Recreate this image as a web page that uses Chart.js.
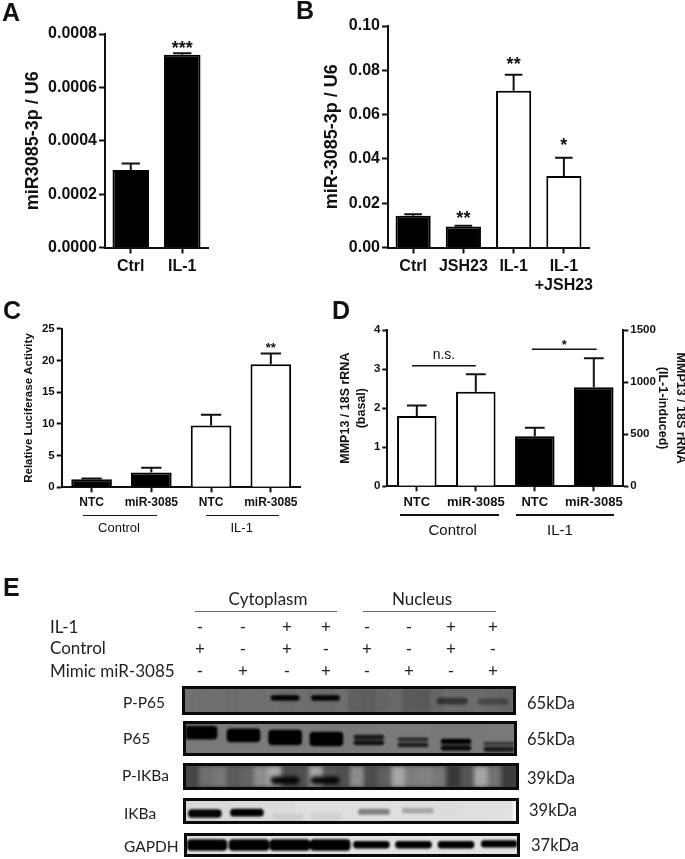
<!DOCTYPE html>
<html>
<head>
<meta charset="utf-8">
<script src="https://cdn.jsdelivr.net/npm/chart.js@4/dist/chart.umd.min.js"></script>
<style>
  html, body { margin: 0; padding: 0; background: #fff; }
  body { position: relative; width: 685px; height: 859px; overflow: hidden; color: #111; font-family: "Liberation Sans", sans-serif; }
  canvas.panel { position: absolute; filter: blur(0.4px); }
  .txt { position: absolute; transform: translate(-50%, -50%); white-space: nowrap; filter: blur(0.3px); }
  .left { transform: translate(0, -50%); }
  .letter { font-weight: bold; font-size: 25px; transform: translate(0, -50%); }
  .group { font-size: 13px; }
  .groupD { font-size: 15px; }
  .blot { font-family: Lato, sans-serif; font-size: 15.5px; color: #222; }
  .head { font-size: 17px; }
  .size { font-size: 16.5px; }
  .rule { position: absolute; background: #111; }
  .strip { position: absolute; box-sizing: border-box; border: 3px solid #0a0a0a; overflow: hidden; }
</style>
</head>
<body>
<script>
// Panel A
const aLabels = ['Ctrl', 'IL-1'];
const aMeans = [0.00029, 0.000722];
const aTops = [0.000315, 0.000728];
const aFilled = [true, true];
const aSig = ['', '***'];
const aSigAt = [null, 0.00076];
const aTicks = [0, 0.0002, 0.0004, 0.0006, 0.0008];

// Panel B
const bLabels = ['Ctrl', 'JSH23', 'IL-1', ['IL-1', '+JSH23']];
const bMeans = [0.0143, 0.0095, 0.0708, 0.0323];
const bTops = [0.015, 0.0098, 0.078, 0.0405];
const bFilled = [true, true, false, false];
const bSig = ['', '**', '**', '*'];
const bSigAt = [null, 0.0147, 0.0846, 0.0478];
const bTicks = [0, 0.02, 0.04, 0.06, 0.08, 0.1];

// Panel C
const cLabels = ['NTC', 'miR-3085', 'NTC', 'miR-3085'];
const cMeans = [1.25, 2.35, 9.75, 19.4];
const cTops = [1.4, 3.1, 11.45, 21.1];
const cFilled = [true, true, false, false];
const cSig = ['', '', '', '**'];
const cSigAt = [null, null, null, 22.4];
const cTicks = [0, 5, 10, 15, 20, 25];

// Panel D: basal bars read on the left axis, IL-1 bars on the right one
const dLabels = ['NTC', 'miR-3085', 'NTC', 'miR-3085'];
const dBasalMeans = [1.8, 2.42, null, null];
const dBasalTops = [2.07, 2.87, null, null];
const dBasalFilled = [false, false, false, false];
const dInducedMeans = [null, null, 480, 950];
const dInducedTops = [null, null, 562, 1230];
const dInducedFilled = [true, true, true, true];
const dLeftTicks = [0, 1, 2, 3, 4];
const dRightTicks = [0, 500, 1000, 1500];
const dBrackets = [
  { from: -0.08, to: 1, at: 3.086, label: 'n.s.', labelAt: 3.36 },
  { from: 1.95, to: 3.05, at: 3.51, label: '*', labelAt: 3.67 }
];

// Panel E treatments
const il1Row = ['-', '-', '+', '+', '-', '-', '+', '+'];
const controlRow = ['+', '-', '+', '-', '+', '-', '+', '-'];
const mimicRow = ['-', '+', '-', '+', '-', '+', '-', '+'];

// Panel E bands: lane position, extent down the strip (0-1), darkness (0-1)
const pP65Cyto = { lanes: [2.98, 3.93], extent: [[0.28, 0.5], [0.28, 0.5]], dark: [0.95, 0.95] };
const pP65Nuc = { lanes: [6.91, 7.87], extent: [[0.4, 0.66], [0.42, 0.68]], dark: [0.5, 0.3] };
const p65Cyto = { lanes: [0.99, 2.0, 2.98, 3.95], extent: [[0.07, 0.52], [0.17, 0.62], [0.21, 0.72], [0.28, 0.76]], dark: [1, 1, 1, 1] };
const p65NucUpper = { lanes: [4.95, 5.99, 7.0, 8.01], extent: [[0.38, 0.52], [0.48, 0.59], [0.52, 0.69], [0.62, 0.72]], dark: [0.8, 0.65, 1, 0.55] };
const p65NucLower = { lanes: [4.95, 5.99, 7.0, 8.01], extent: [[0.57, 0.72], [0.66, 0.79], [0.74, 0.91], [0.79, 0.95]], dark: [0.85, 0.75, 0.9, 0.75] };
const pIkbaCyto = { lanes: [2.98, 3.92], extent: [[0.53, 0.85], [0.53, 0.85]], dark: [1, 1] };
const ikbaCyto = { lanes: [1.09, 2.08], extent: [[0.43, 0.82], [0.4, 0.76]], dark: [0.98, 1] };
const ikbaNuc = { lanes: [5.07, 6.1], extent: [[0.41, 0.67], [0.37, 0.6]], dark: [0.42, 0.25] };
const ikbaFaint = { lanes: [3.05, 3.95], extent: [[0.65, 0.98], [0.6, 0.98]], dark: [0.06, 0.05] };
const ikbaEdge = { lanes: [8.4], extent: [[0, 1]], dark: [1] };
const gapdhCyto = { lanes: [1.14, 2.13, 3.09, 4.04], extent: [[0.2, 0.8], [0.2, 0.8], [0.2, 0.8], [0.2, 0.8]], dark: [1, 1, 1, 1] };
const gapdhNuc = { lanes: [5.01, 6.0, 7.0, 8.02], extent: [[0.29, 0.67], [0.29, 0.67], [0.29, 0.67], [0.26, 0.62]], dark: [1, 1, 1, 1] };

// Panel E membrane background, grey level across each strip
const pP65Shades = [112, 110, 112, 108, 112, 110, 112, 108, 110, 108, 106, 110, 96, 92, 100, 104, 90, 88, 100, 108, 106, 108, 104, 100];
const p65Shades = [122, 122, 122, 122, 122, 120, 120, 122, 122, 120, 120, 122];
const pIkbaShades = [70, 110, 120, 90, 100, 140, 170, 75, 80, 165, 85, 80, 140, 75, 95, 165, 125, 130, 120, 55, 85, 165, 115, 60];
const ikbaShades = [216, 216, 218, 218, 222, 222, 222, 222, 220, 220, 222, 224];
const gapdhShades = [226, 226, 226, 226, 226, 226, 226, 226];

const blotLabels = ['P-P65', 'P65', 'P-IKBa', 'IKBa', 'GAPDH'];
const blotSizes = ['65kDa', '65kDa', '39kDa', '39kDa', '37kDa'];

const FONT = '"Liberation Sans", sans-serif';
const INK = '#111';

// error bars, significance marks and brackets, all placed through the scales
const annotatePlugin = {
  id: 'annotate',
  afterDatasetsDraw(chart) {
    const ctx = chart.ctx;
    const { sigSize } = chart.options.plugins.annotate;
    ctx.save();
    ctx.strokeStyle = INK;
    ctx.fillStyle = INK;
    ctx.lineWidth = 2;
    chart.data.datasets.forEach((ds, i) => {
      const meta = chart.getDatasetMeta(i);
      const yScale = chart.scales[meta.yAxisID];
      meta.data.forEach((bar, j) => {
        if (ds.tops[j] == null) return;
        const top = yScale.getPixelForValue(ds.tops[j]);
        const cap = bar.width / 4;
        ctx.beginPath();
        ctx.moveTo(bar.x, bar.y);
        ctx.lineTo(bar.x, top);
        ctx.moveTo(bar.x - cap, top);
        ctx.lineTo(bar.x + cap, top);
        ctx.stroke();
        if (ds.sig && ds.sig[j]) drawCentered(ctx, ds.sig[j], bar.x, yScale.getPixelForValue(ds.sigAt[j]), `bold ${sigSize}px ${FONT}`);
      });
    });
    (chart.options.plugins.annotate.brackets || []).forEach((b) => {
      const x0 = chart.scales.x.getPixelForValue(b.from);
      const x1 = chart.scales.x.getPixelForValue(b.to);
      const y = chart.scales.y.getPixelForValue(b.at);
      ctx.beginPath();
      ctx.moveTo(x0, y);
      ctx.lineTo(x1, y);
      ctx.lineWidth = 1.5;
      ctx.stroke();
      drawCentered(ctx, b.label, (x0 + x1) / 2, chart.scales.y.getPixelForValue(b.labelAt), b.label === '*' ? `bold 13px ${FONT}` : `14px ${FONT}`);
    });
    ctx.restore();
  }
};

function drawCentered(ctx, text, x, y, font) {
  ctx.font = font;
  ctx.textAlign = 'center';
  ctx.textBaseline = 'alphabetic';
  const m = ctx.measureText(text);
  ctx.fillText(text, x, y + (m.actualBoundingBoxAscent - m.actualBoundingBoxDescent) / 2);
}

function makeCanvas(parent, x, y, w, h) {
  const c = document.createElement('canvas');
  c.className = 'panel';
  c.width = w;
  c.height = h;
  c.style.left = x + 'px';
  c.style.top = y + 'px';
  parent.appendChild(c);
  return c;
}

function valueAxis(o) {
  return {
    type: 'linear',
    position: o.position || 'left',
    min: o.ticks[0],
    max: o.ticks[o.ticks.length - 1],
    afterBuildTicks(s) { s.ticks = o.ticks.map((v) => ({ value: v })); },
    afterFit(s) { s.width = o.width; },
    border: { display: true, color: INK, width: 2 },
    grid: { drawOnChartArea: false, color: INK, tickLength: o.tickLen, tickWidth: 2, tickColor: INK },
    ticks: {
      color: INK,
      padding: o.tickPad,
      font: { family: FONT, size: o.tickSize, weight: 'bold' },
      callback: (v) => (o.decimals != null ? Number(v).toFixed(o.decimals) : String(v))
    },
    title: {
      display: true,
      text: o.title,
      color: INK,
      padding: { top: o.titlePad, bottom: 0 },
      font: { family: FONT, size: o.titleSize, weight: 'bold', lineHeight: o.titleLine || 1.2 }
    }
  };
}

function barPanel(o) {
  const canvas = makeCanvas(document.body, o.box.x, o.box.y, o.box.w, o.box.h);
  const scales = {
    x: {
      type: 'category',
      afterFit(s) { s.height = o.box.y + o.box.h - o.area.b; },
      border: { display: true, color: INK, width: 2 },
      grid: { drawOnChartArea: false, offset: false, tickLength: o.tickLen, tickWidth: 2, tickColor: INK, color: INK },
      ticks: { color: INK, padding: o.xPad, maxRotation: 0, autoSkip: false, font: { family: FONT, size: o.xSize, weight: 'bold' } }
    },
    y: o.y
  };
  if (o.y2) scales.y2 = o.y2;
  return new Chart(canvas, {
    type: 'bar',
    data: { labels: o.labels, datasets: o.datasets },
    options: {
      responsive: false,
      animation: false,
      layout: { padding: { left: 0, top: o.area.t - o.box.y, right: o.y2 ? 0 : o.box.x + o.box.w - o.area.r, bottom: 0 } },
      plugins: { legend: { display: false }, tooltip: { enabled: false }, annotate: { sigSize: o.sigSize, brackets: o.brackets } },
      scales
    },
    plugins: [annotatePlugin]
  });
}

function barSet(means, tops, filled, pct, sig, sigAt, axis) {
  return {
    data: means,
    tops,
    sig,
    sigAt,
    yAxisID: axis || 'y',
    grouped: false,
    backgroundColor: filled.map((f) => (f ? '#000' : '#fff')),
    borderColor: '#000',
    borderWidth: 2,
    borderSkipped: 'start',
    barPercentage: pct,
    categoryPercentage: 1
  };
}

barPanel({
  box: { x: 0, y: 0, w: 290, h: 290 },
  area: { t: 34, r: 208, b: 247.5 },
  labels: aLabels,
  datasets: [barSet(aMeans, aTops, aFilled, 0.71, aSig, aSigAt)],
  tickLen: 6, xPad: 3, xSize: 16, sigSize: 18,
  y: valueAxis({ ticks: aTicks, width: 105, tickLen: 6, tickPad: 2, tickSize: 16, decimals: 4, title: 'miR3085-3p / U6', titlePad: 22, titleSize: 18 })
});

barPanel({
  box: { x: 290, y: 0, w: 320, h: 300 },
  area: { t: 26, r: 589, b: 247.5 },
  labels: bLabels,
  datasets: [barSet(bMeans, bTops, bFilled, 0.7, bSig, bSigAt)],
  tickLen: 6, xPad: 3, xSize: 16, sigSize: 18,
  y: valueAxis({ ticks: bTicks, width: 98, tickLen: 6, tickPad: 2, tickSize: 16, decimals: 2, title: 'miR-3085-3p / U6', titlePad: 31, titleSize: 18 })
});

barPanel({
  box: { x: 0, y: 300, w: 320, h: 210 },
  area: { t: 328.7, r: 300.7, b: 487.3 },
  labels: cLabels,
  datasets: [barSet(cMeans, cTops, cFilled, 0.68, cSig, cSigAt)],
  tickLen: 5, xPad: 3, xSize: 12, sigSize: 13,
  y: valueAxis({ ticks: cTicks, width: 61.7, tickLen: 5, tickPad: 2, tickSize: 11.5, title: 'Relative Luciferase Activity', titlePad: 22, titleSize: 11.5 })
});

barPanel({
  box: { x: 325, y: 300, w: 375, h: 210 },
  area: { t: 330, r: 623.3, b: 486.3 },
  labels: dLabels,
  datasets: [
    barSet(dBasalMeans, dBasalTops, dBasalFilled, 0.67),
    barSet(dInducedMeans, dInducedTops, dInducedFilled, 0.67, null, null, 'y2')
  ],
  tickLen: 5, xPad: 3, xSize: 13, sigSize: 13,
  brackets: dBrackets,
  y: valueAxis({ ticks: dLeftTicks, width: 62.3, tickLen: 5, tickPad: 2, tickSize: 11.5, title: ['MMP13 / 18S rRNA', '(basal)'], titlePad: 12, titleSize: 12.5, titleLine: 1.3 }),
  y2: valueAxis({ ticks: dRightTicks, position: 'right', width: 76.7, tickLen: 5, tickPad: 2, tickSize: 11.5, title: ['MMP13 / 18S rRNA', '(IL-1-induced)'], titlePad: 11, titleSize: 12.5, titleLine: 1.42 })
});

// text and rules around the plots
function addText(text, x, y, cls) {
  const d = document.createElement('div');
  d.className = 'txt ' + (cls || '');
  d.textContent = text;
  d.style.left = x + 'px';
  d.style.top = y + 'px';
  document.body.appendChild(d);
}
function addRule(x0, x1, y, h, color) {
  const d = document.createElement('div');
  d.className = 'rule';
  d.style.left = x0 + 'px';
  d.style.width = (x1 - x0) + 'px';
  d.style.top = y + 'px';
  d.style.height = h + 'px';
  if (color) d.style.background = color;
  document.body.appendChild(d);
}

addText('A', 2, 12, 'letter');
addText('B', 296, 10, 'letter');
addText('C', 3, 310, 'letter');
addText('D', 332, 310, 'letter');
addText('E', 3, 587, 'letter');

addRule(82.7, 156.7, 514.5, 1.5);
addRule(206, 279, 514.5, 1.5);
addText('Control', 119, 527, 'group');
addText('IL-1', 241.7, 527, 'group');
addRule(400, 499, 514, 2);
addRule(515.7, 614, 514, 2);
addText('Control', 452.7, 529, 'groupD');
addText('IL-1', 560, 529, 'groupD');

// panel E header
addText('Cytoplasm', 268, 598, 'blot head');
addRule(195, 337, 611, 1, '#666');
addText('Nucleus', 422, 598, 'blot head');
addRule(363, 496, 611, 1, '#666');
addText('IL-1', 50, 626, 'blot head left');
addText('Control', 50, 647, 'blot head left');
addText('Mimic miR-3085', 50, 670, 'blot head left');

const signX = [200, 243, 287, 326, 367, 409, 451, 493];
[[il1Row, 626], [controlRow, 648], [mimicRow, 670]].forEach(([row, y]) => {
  row.forEach((s, i) => addText(s, signX[i], y, 'blot head'));
});

// one small chart per blot strip, lanes on a linear x scale
const LANE_PX = 42.5;
const LANE_ONE = 201;

function stripChart(o) {
  const div = document.createElement('div');
  div.className = 'strip';
  div.style.left = o.x0 + 'px';
  div.style.top = o.y0 + 'px';
  div.style.width = (o.x1 - o.x0) + 'px';
  div.style.height = (o.y1 - o.y0) + 'px';
  div.style.background = `rgb(${o.shades[0]},${o.shades[0]},${o.shades[0]})`;
  document.body.appendChild(div);
  const w = o.x1 - o.x0 - 6;
  const h = o.y1 - o.y0 - 6;
  const canvas = makeCanvas(div, 0, 0, w, h);
  canvas.style.filter = `blur(${o.blur}px)`;
  const laneMin = 1 + (o.x0 + 3 - LANE_ONE) / LANE_PX;
  const laneMax = 1 + (o.x1 - 3 - LANE_ONE) / LANE_PX;
  const step = (laneMax - laneMin) / o.shades.length;
  const datasets = [{
    data: o.shades.map((_, i) => ({ x: laneMin + step * (i + 0.5), y: [0, 1] })),
    backgroundColor: o.shades.map((g) => `rgb(${g},${g},${g})`),
    barThickness: Math.ceil(w / o.shades.length) + 1,
    grouped: false,
    order: 3
  }];
  o.bands.forEach((b) => {
    datasets.push({
      data: b.set.lanes.map((l, i) => ({ x: l, y: b.set.extent[i] })),
      backgroundColor: b.set.dark.map((d) => (b.tone ? b.tone : `rgba(0,0,0,${d})`)),
      barThickness: b.width,
      borderRadius: b.round == null ? 4 : b.round,
      borderSkipped: false,
      grouped: false,
      order: 1
    });
  });
  new Chart(canvas, {
    type: 'bar',
    data: { datasets },
    options: {
      responsive: false,
      animation: false,
      layout: { padding: 0 },
      plugins: { legend: { display: false }, tooltip: { enabled: false } },
      scales: {
        x: { type: 'linear', display: false, min: laneMin, max: laneMax, offset: false },
        y: { display: false, min: 0, max: 1, reverse: true }
      }
    }
  });
}

stripChart({ x0: 182, x1: 516, y0: 686, y1: 715, blur: 1.1, shades: pP65Shades, bands: [{ set: pP65Cyto, width: 28 }, { set: pP65Nuc, width: 30 }] });
stripChart({ x0: 183, x1: 517, y0: 721, y1: 756, blur: 1.3, shades: p65Shades, bands: [{ set: p65Cyto, width: 33 }, { set: p65NucUpper, width: 30 }, { set: p65NucLower, width: 30 }] });
stripChart({ x0: 183, x1: 519, y0: 763, y1: 790, blur: 2, shades: pIkbaShades, bands: [{ set: pIkbaCyto, width: 28 }] });
stripChart({ x0: 183, x1: 519, y0: 798, y1: 824, blur: 1.2, shades: ikbaShades, bands: [{ set: ikbaFaint, width: 30 }, { set: ikbaCyto, width: 33 }, { set: ikbaNuc, width: 31 }, { set: ikbaEdge, width: 4, tone: '#fff', round: 0 }] });
stripChart({ x0: 184, x1: 520, y0: 833, y1: 857, blur: 1.2, shades: gapdhShades, bands: [{ set: gapdhCyto, width: 40 }, { set: gapdhNuc, width: 36 }] });

const labelY = [702, 738, 775, 813, 846];
const labelX = [123, 123, 122, 124, 124];
const sizeX = [527, 527, 527, 529, 531];
const sizeY = [703, 739, 778, 810, 845];
blotLabels.forEach((t, i) => addText(t, labelX[i], labelY[i], 'blot left'));
blotSizes.forEach((t, i) => addText(t, sizeX[i], sizeY[i], 'blot size left'));
</script>
</body>
</html>
